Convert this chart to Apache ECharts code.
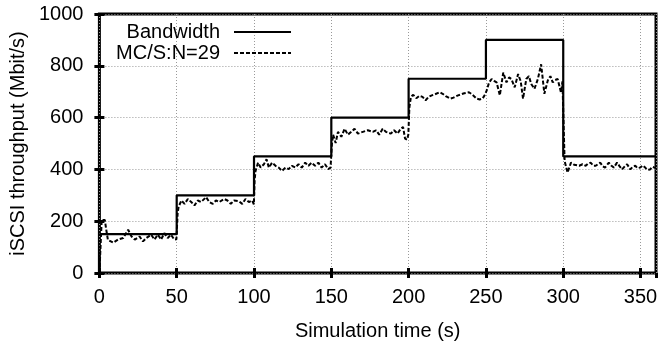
<!DOCTYPE html>
<html>
<head>
<meta charset="utf-8">
<script src="https://cdn.jsdelivr.net/npm/echarts@6/dist/echarts.min.js"></script>
<style>html,body{margin:0;padding:0;background:#fff}#c{width:661px;height:346px}</style>
</head>
<body>
<div id="c"></div>
<script>
var xTicks = [0, 50, 100, 150, 200, 250, 300, 350];
var yTicks = [0, 200, 400, 600, 800, 1000];

var bwTime = [0, 50, 100, 150, 200, 250, 300, 360];
var bwValue = [150, 300, 450, 600, 750, 900, 450, 450];

var mcsTime = [
  0, 1.5, 3.5, 4.5, 5.5, 9, 12, 15.4, 18.6, 20.8, 22.9, 26, 28.2, 30.3, 33.5, 35.6, 37.8, 39.9, 42, 44.2, 46.3, 48.4, 49.8,
  50.6, 51.2, 53, 55.1, 57.2, 59.4, 61.5, 63.6, 65.8, 69, 71.1, 73.3, 75.4, 77.5, 80.7, 82.8, 85, 87.1, 90.3, 92.4, 94.5, 96.7, 98.8, 99.9,
  100.4, 101, 102.6, 104.3, 106.4, 108.1, 109.6, 111.7, 113.9, 116, 118.1, 120.3, 122.4, 124.5, 126.7, 128.8, 130.9, 133.1, 135.2, 137.3, 139.5, 141.6, 143.7, 145.9, 148, 149.5,
  150.4, 151.2, 152.8, 154.3, 156.5, 158.6, 160.7, 162.9, 165, 167.2, 170.4, 173.6, 176.8, 178.9, 181, 183.2, 185.3, 188.5, 190.6, 192.8, 194.9, 196.4, 197.7, 199, 199.8,
  200.5, 201.5, 203, 205, 207, 209, 211, 213, 215, 217, 220, 222, 224, 227, 229, 232, 234, 236, 239, 241, 244, 246, 248, 249.5,
  250.5, 252, 253.7, 255.3, 256.9, 259, 261.2, 263.3, 265, 266.5, 268.6, 270.8, 272.5, 274, 276.1, 277.8, 279.3, 281.4, 283.6, 285.7, 287.8, 290, 291.7, 293.2, 294.8, 296.4, 298.5, 299.5,
  300.3, 300.9, 302.8, 305, 307, 310.3, 312.5, 314.5, 316, 317.7, 319.5, 321, 322.5, 324, 325.5, 327, 329.5, 331, 332.7, 334.8, 336.5, 338, 339.5, 341.3, 343.4, 345, 346.6, 348, 349.8, 351.5, 353, 354.5, 356.2, 357.5, 358.3, 360
];
var mcsValue = [
  0, 205, 205, 165, 128, 117, 129, 135, 167, 141, 129, 141, 122, 135, 148, 129, 148, 129, 154, 135, 148, 129, 130,
  230, 255, 280, 267, 286, 274, 261, 280, 274, 293, 274, 267, 280, 274, 286, 280, 267, 280, 277, 267, 286, 274, 280, 265,
  360, 394, 426, 407, 420, 439, 407, 426, 414, 407, 394, 407, 401, 414, 407, 420, 407, 426, 414, 426, 414, 426, 407, 420, 401, 407,
  500, 534, 502, 545, 526, 557, 534, 545, 557, 538, 545, 551, 545, 551, 534, 557, 545, 538, 551, 538, 557, 564, 519, 515, 534,
  640, 680, 688, 675, 684, 680, 667, 680, 686, 690, 698, 692, 683, 673, 677, 686, 690, 694, 698, 690, 673, 670, 675, 690,
  705, 735, 749, 742, 736, 686, 774, 736, 755, 749, 717, 768, 740, 673, 749, 760, 730, 711, 749, 806, 692, 743, 760, 736, 745, 749, 698, 740,
  560, 432, 388, 426, 418, 414, 420, 414, 422, 426, 414, 414, 420, 426, 412, 407, 426, 415, 407, 426, 412, 400, 410, 420, 400, 410, 414, 405, 407, 415, 407, 398, 400, 410, 407, 405
];

function pairs(xs, ys) { return xs.map(function (x, i) { return [x, ys[i]]; }); }

var FONT = 'Liberation Sans, Arial, sans-serif';
var tickStyle = { show: true, inside: true, length: 5, lineStyle: { color: '#000', width: 3 } };
var splitStyle = { show: true, lineStyle: { color: '#999', width: 1, type: [1, 2] } };

var chart = echarts.init(document.getElementById('c'), null, { renderer: 'canvas' });
chart.setOption({
  animation: false,
  backgroundColor: '#fff',
  textStyle: { fontFamily: FONT },
  grid: { left: 94, right: 5, top: 14, bottom: 69, show: true, borderColor: '#000', borderWidth: 3, backgroundColor: 'transparent' },
  legend: {
    orient: 'vertical', align: 'right', right: 369, top: 22, padding: 0,
    itemWidth: 57, itemHeight: 14, itemGap: 1,
    itemStyle: { opacity: 0 },
    textStyle: { fontFamily: FONT, fontSize: 20, color: '#000', lineHeight: 20, padding: [0, 9, 0, 0] },
    data: ['Bandwidth', 'MC/S:N=29']
  },
  xAxis: [{
    type: 'value', min: 0, max: 360, interval: 50, position: 'bottom',
    axisLine: { show: false }, axisTick: tickStyle, splitLine: splitStyle,
    axisLabel: { color: '#000', fontSize: 20, fontFamily: FONT, margin: 14, showMaxLabel: false,
      formatter: function (v) { return xTicks.indexOf(v) >= 0 ? String(v) : ''; } },
    name: 'Simulation time (s)', nameLocation: 'middle', nameGap: 48,
    nameTextStyle: { color: '#000', fontSize: 20, fontFamily: FONT }
  }, {
    type: 'value', min: 0, max: 360, interval: 50, position: 'top',
    axisLine: { show: false }, axisTick: tickStyle, splitLine: { show: false }, axisLabel: { show: false }
  }],
  yAxis: [{
    type: 'value', min: 0, max: 1000, interval: 200, position: 'left',
    axisLine: { show: false }, axisTick: tickStyle, splitLine: splitStyle,
    axisLabel: { color: '#000', fontSize: 20, fontFamily: FONT, margin: 16,
      formatter: function (v) { return yTicks.indexOf(v) >= 0 ? String(v) : ''; } },
    name: 'iSCSI throughput (Mbit/s)', nameLocation: 'middle', nameGap: 71,
    nameTextStyle: { color: '#000', fontSize: 20, fontFamily: FONT }
  }, {
    type: 'value', min: 0, max: 1000, interval: 200, position: 'right',
    axisLine: { show: false }, axisTick: tickStyle, splitLine: { show: false }, axisLabel: { show: false }
  }],
  series: [{
    name: 'Bandwidth', type: 'line', step: 'end', showSymbol: false, symbol: 'none',
    data: pairs(bwTime, bwValue),
    lineStyle: { color: '#000', width: 2.2 }, itemStyle: { color: '#000' }, z: 3
  }, {
    name: 'MC/S:N=29', type: 'line', showSymbol: false, symbol: 'none',
    data: pairs(mcsTime, mcsValue),
    lineStyle: { color: '#000', width: 2, type: [4, 2] }, itemStyle: { color: '#000' }, z: 4
  }]
});
</script>
</body>
</html>
